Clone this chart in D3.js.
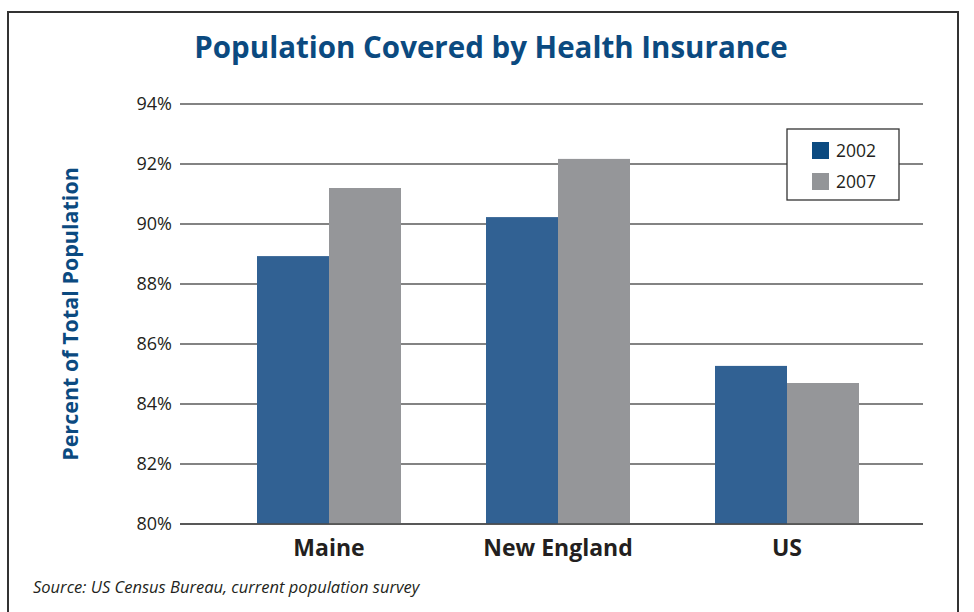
<!DOCTYPE html>
<html><head><meta charset="utf-8">
<script src="https://cdn.jsdelivr.net/npm/d3@7"></script>
<style>body{margin:0;background:#fff}svg{display:block}</style>
</head><body>
<svg id="chart" width="974" height="612"></svg>
<script>
const categories = ["Maine", "New England", "US"];
const seriesNames = ["2002", "2007"];
const values2002 = [88.93, 90.23, 85.27];
const values2007 = [91.2, 92.17, 84.7];
const yTicks = [80, 82, 84, 86, 88, 90, 92, 94];

const barColors = {"2002": "#316193", "2007": "#959699"};
const legendColors = {"2002": "#0b4a80", "2007": "#939598"};
const data = categories.map((c, i) => ({cat: c, vals: [{k: "2002", v: values2002[i]}, {k: "2007", v: values2007[i]}]}));

const svg = d3.select("#chart");
const font = "'Open Sans', 'Noto Sans', sans-serif";

// outer border
svg.append("rect").attr("x", 8).attr("y", 12).attr("width", 950).attr("height", 620)
  .attr("fill", "none").attr("stroke", "#333").attr("stroke-width", 2);

const y = d3.scaleLinear().domain([80, 94]).range([524, 104]);
const x0 = d3.scaleBand().domain(categories).range([214.5, 901.5]).paddingInner(85/229).paddingOuter(42.5/229);
const x1 = d3.scaleBand().domain(seriesNames).range([0, x0.bandwidth()]);

// gridlines
svg.append("g").selectAll("line").data(yTicks).join("line")
  .attr("x1", 180).attr("x2", 923)
  .attr("y1", d => y(d)).attr("y2", d => y(d))
  .attr("stroke", "#5a5a5a").attr("stroke-width", 1.6);

// y axis labels
const yAxis = d3.axisLeft(y).tickValues(yTicks).tickFormat(d => d + "%").tickSize(0).tickPadding(8);
const ya = svg.append("g").attr("transform", "translate(180,0)").call(yAxis);
ya.select(".domain").remove();
ya.selectAll("text").attr("font-family", font).attr("font-size", 18).attr("fill", "#231f20");

// bars
svg.append("g").selectAll("g").data(data).join("g")
  .attr("transform", d => `translate(${x0(d.cat)},0)`)
  .selectAll("rect").data(d => d.vals).join("rect")
  .attr("x", d => x1(d.k)).attr("width", x1.bandwidth())
  .attr("y", d => y(d.v)).attr("height", d => y(80) - y(d.v))
  .attr("fill", d => barColors[d.k]);

// baseline redraw over bars
svg.append("line").attr("x1", 180).attr("x2", 923).attr("y1", y(80)).attr("y2", y(80))
  .attr("stroke", "#4a4a4a").attr("stroke-width", 1.6);

// x axis labels
const xAxis = d3.axisBottom(x0).tickSize(0).tickPadding(16);
const xa = svg.append("g").attr("transform", `translate(0,${y(80)})`).call(xAxis);
xa.select(".domain").remove();
xa.selectAll("text").attr("font-family", font).attr("font-size", 23).attr("font-weight", "bold").attr("fill", "#231f20");

// title
svg.append("text").attr("x", 491).attr("y", 58).attr("text-anchor", "middle")
  .attr("font-family", font).attr("font-size", 29.5).attr("font-weight", "bold").attr("fill", "#0b4a80")
  .text("Population Covered by Health Insurance");

// y title
svg.append("text").attr("transform", "translate(78,314) rotate(-90)").attr("text-anchor", "middle")
  .attr("font-family", font).attr("font-size", 21.5).attr("font-weight", "bold").attr("fill", "#0b4a80")
  .text("Percent of Total Population");

// source
svg.append("text").attr("x", 33).attr("y", 593)
  .attr("font-family", font).attr("font-size", 16.5).attr("font-style", "italic").attr("fill", "#231f20")
  .text("Source: US Census Bureau, current population survey");

// legend
const lg = svg.append("g");
lg.append("rect").attr("x", 787).attr("y", 129).attr("width", 112).attr("height", 71)
  .attr("fill", "#fff").attr("stroke", "#333").attr("stroke-width", 1.3);
seriesNames.forEach((s, i) => {
  lg.append("rect").attr("x", 812).attr("y", 142 + i * 31).attr("width", 17).attr("height", 17)
    .attr("fill", legendColors[s]);
  lg.append("text").attr("x", 836).attr("y", 157 + i * 31)
    .attr("font-family", font).attr("font-size", 17.5).attr("fill", "#231f20").text(s);
});
</script>
</body></html>
